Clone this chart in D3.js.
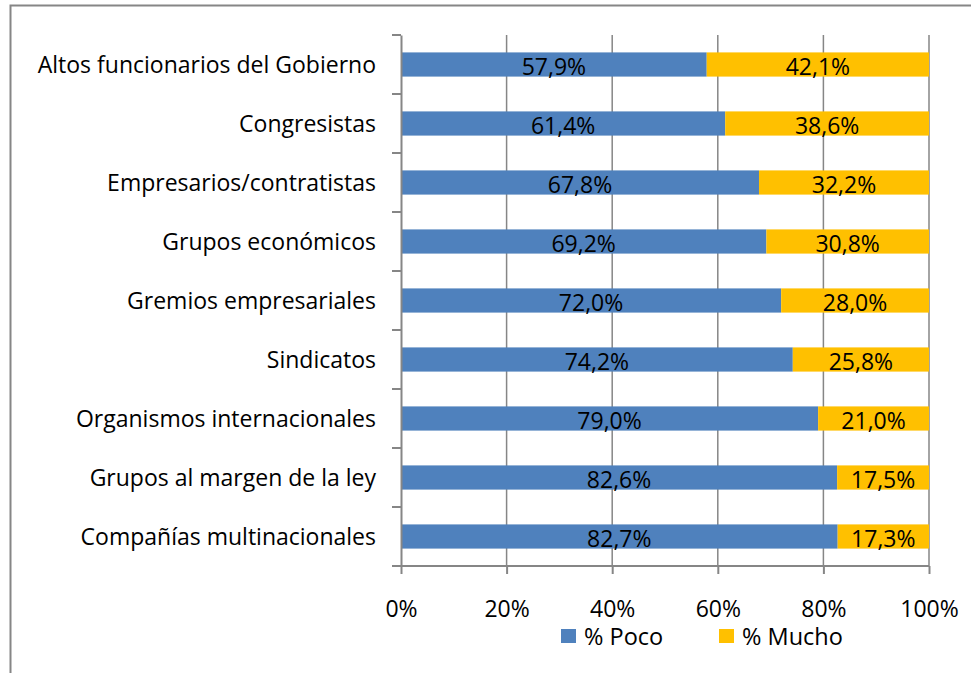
<!DOCTYPE html>
<html>
<head>
<meta charset="utf-8">
<script src="https://cdnjs.cloudflare.com/ajax/libs/d3/7.8.5/d3.min.js"></script>
<style>
  body { margin: 0; background: #fff; }
  svg { display: block; font-family: "Open Sans", Lato, sans-serif; }
</style>
</head>
<body>
<svg id="chart" width="971" height="673"></svg>
<script>
// Datos
const categories = [
    'Altos funcionarios del Gobierno',
    'Congresistas',
    'Empresarios/contratistas',
    'Grupos económicos',
    'Gremios empresariales',
    'Sindicatos',
    'Organismos internacionales',
    'Grupos al margen de la ley',
    'Compañías multinacionales'
];
const poco = [57.9, 61.4, 67.8, 69.2, 72.0, 74.2, 79.0, 82.6, 82.7];
const mucho = [42.1, 38.6, 32.2, 30.8, 28.0, 25.8, 21.0, 17.5, 17.3];
const seriesNames = ['% Poco', '% Mucho'];
const xTicks = [0, 20, 40, 60, 80, 100];

const COLORS = ['#4F81BD', '#FFC000'];
const GRID = '#868686';
const FONT = '"Open Sans", Lato, sans-serif';

const svg = d3.select('#chart');

// Marco exterior
svg.append('rect')
    .attr('x', 10.5).attr('y', 5.5)
    .attr('width', 1100).attr('height', 1000)
    .attr('fill', 'none')
    .attr('stroke', GRID)
    .attr('stroke-width', 2);

const plotLeft = 401, plotRight = 929, plotTop = 35, plotBottom = 566;

const x = d3.scaleLinear().domain([0, 100]).range([plotLeft, plotRight]).clamp(true);
const y = d3.scaleBand().domain(categories).range([plotTop, plotBottom]).paddingInner(0.59).paddingOuter(0.295);

const rows = categories.map((c, i) => ({ cat: c, poco: poco[i], mucho: mucho[i] }));
const stack = d3.stack().keys(['poco', 'mucho']);
const stacked = stack(rows);

// Líneas de cuadrícula verticales
svg.append('g')
    .selectAll('line')
    .data(xTicks.slice(1))
    .enter()
    .append('line')
    .attr('x1', d => x(d)).attr('x2', d => x(d))
    .attr('y1', plotTop).attr('y2', plotBottom)
    .attr('stroke', GRID)
    .attr('stroke-width', 1.5);

// Barras
stacked.forEach((layer, k) => {
    svg.append('g')
        .selectAll('rect')
        .data(layer)
        .enter()
        .append('rect')
        .attr('x', d => x(d[0]))
        .attr('width', d => x(d[1]) - x(d[0]))
        .attr('y', d => y(d.data.cat))
        .attr('height', y.bandwidth())
        .attr('fill', COLORS[k]);

    svg.append('g')
        .selectAll('text')
        .data(layer)
        .enter()
        .append('text')
        .attr('x', d => (x(d[0]) + x(d[1])) / 2)
        .attr('y', d => y(d.data.cat) + y.bandwidth() / 2 + 10)
        .attr('text-anchor', 'middle')
        .attr('font-size', 23)
        .attr('fill', '#000')
        .text(d => (d[1] - d[0]).toFixed(1).replace('.', ',') + '%');
});

// Eje Y
const yAxis = svg.append('g')
    .attr('transform', `translate(${plotLeft},0)`)
    .call(d3.axisLeft(y).tickSize(0).tickPadding(25));
yAxis.select('.domain').attr('stroke', GRID).attr('stroke-width', 2);
yAxis.selectAll('text')
    .attr('font-size', 23)
    .attr('fill', '#000')
    .attr('font-family', FONT)
    .attr('dy', '0.36em');

// Marcas de límites de categorías
const bounds = d3.range(categories.length + 1).map(i => plotTop + i * y.step());
svg.append('g')
    .selectAll('line')
    .data(bounds)
    .enter()
    .append('line')
    .attr('x1', plotLeft - 9).attr('x2', plotLeft)
    .attr('y1', d => d).attr('y2', d => d)
    .attr('stroke', GRID)
    .attr('stroke-width', 2);

// Eje X
const xAxis = svg.append('g')
    .attr('transform', `translate(0,${plotBottom})`)
    .call(d3.axisBottom(x).tickValues(xTicks).tickSize(8).tickPadding(27).tickFormat(d => d + '%'));
xAxis.select('.domain').attr('stroke', GRID).attr('stroke-width', 2).attr('d', `M${plotLeft},0H${plotRight}`);
xAxis.selectAll('line').attr('stroke', GRID).attr('stroke-width', 2);
xAxis.selectAll('text').attr('font-size', 23).attr('fill', '#000').attr('font-family', FONT);

// Leyenda
const legendX = [561, 719];
const legend = svg.append('g');
seriesNames.forEach((name, i) => {
    legend.append('rect')
        .attr('x', legendX[i]).attr('y', 629)
        .attr('width', 15).attr('height', 14)
        .attr('fill', COLORS[i]);
    legend.append('text')
        .attr('x', legendX[i] + 23).attr('y', 645)
        .attr('font-size', 23.5)
        .attr('fill', '#000')
        .text(name);
});
</script>
</body>
</html>
